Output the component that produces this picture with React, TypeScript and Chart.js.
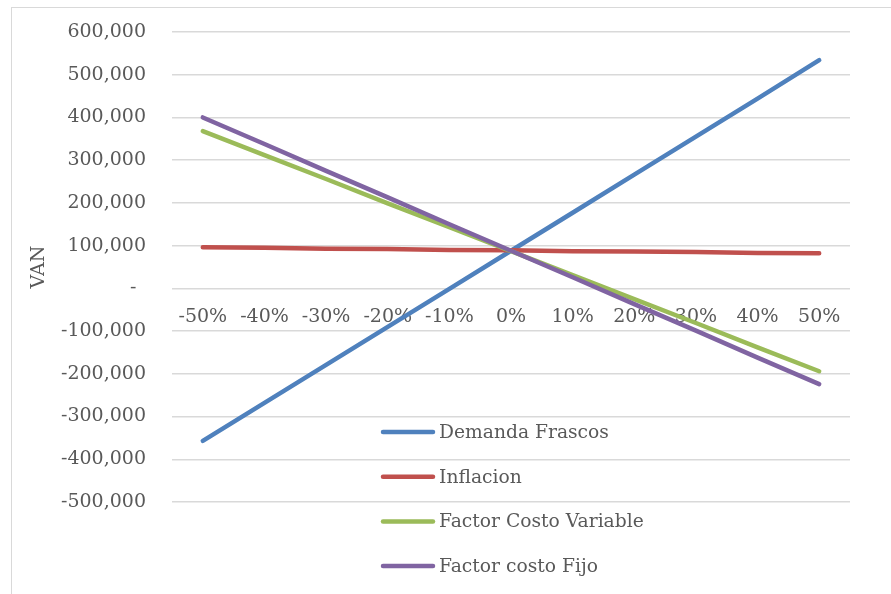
import React, { useEffect, useRef } from "react";
import { Chart, registerables } from "chart.js";

Chart.register(...registerables);

const categories = ["-50%", "-40%", "-30%", "-20%", "-10%", "0%", "10%", "20%", "30%", "40%", "50%"];
const demandaFrascos = [-357000, -268000, -179000, -90000, -1000, 88000, 177000, 266000, 355000, 444000, 534000];
const inflacion = [96000, 95000, 93000, 92000, 90000, 89000, 87000, 86000, 85000, 83000, 82000];
const factorCostoVariable = [368000, 312000, 256000, 199000, 143000, 87000, 31000, -25000, -81000, -138000, -194000];
const factorCostoFijo = [400000, 338000, 275000, 213000, 150000, 88000, 26000, -37000, -99000, -162000, -224000];
const seriesNames = ["Demanda Frascos", "Inflacion", "Factor Costo Variable", "Factor costo Fijo"];
const seriesColors = ["#4F81BD", "#C0504D", "#9BBB59", "#8064A2"];

const FONT = "'DejaVu Serif', serif";
const TEXT = "#595959";
const GRID = "#d9d9d9";

const legendPlugin = {
  id: "insideLegend",
  afterDraw(chart: any) {
    const ctx = chart.ctx;
    const x0 = 383;
    const y0 = 432;
    const step = 44.7;
    ctx.save();
    ctx.font = `18.7px ${FONT}`;
    ctx.textBaseline = "middle";
    ctx.textAlign = "left";
    chart.data.datasets.forEach((ds: any, i: number) => {
      const y = y0 + i * step;
      ctx.strokeStyle = ds.borderColor;
      ctx.lineWidth = 4.5;
      ctx.lineCap = "round";
      ctx.beginPath();
      ctx.moveTo(x0, y);
      ctx.lineTo(x0 + 50, y);
      ctx.stroke();
      ctx.fillStyle = TEXT;
      ctx.fillText(ds.label, x0 + 56, y + 1);
    });
    ctx.restore();
  },
};

export default function App() {
  const ref = useRef<HTMLCanvasElement | null>(null);
  useEffect(() => {
    document.body.style.margin = "0";
    const seriesData = [demandaFrascos, inflacion, factorCostoVariable, factorCostoFijo];
    const chart = new Chart(ref.current as HTMLCanvasElement, {
      type: "line",
      data: {
        labels: categories,
        datasets: seriesData.map((d, i) => ({
          label: seriesNames[i],
          data: d,
          borderColor: seriesColors[i],
          backgroundColor: seriesColors[i],
          borderWidth: 4.5,
          borderCapStyle: "round" as const,
          borderJoinStyle: "round" as const,
          pointRadius: 0,
          pointHoverRadius: 0,
          tension: 0,
          fill: false,
          order: 3 - i,
        })),
      },
      options: {
        animation: false,
        responsive: false,
        maintainAspectRatio: false,
        layout: { padding: { left: 15, right: 41, top: 32, bottom: 92 } },
        plugins: {
          legend: { display: false },
          tooltip: { enabled: false },
        },
        scales: {
          x: {
            type: "category",
            position: { y: 0 } as any,
            offset: true,
            grid: { display: false, drawTicks: false },
            border: { display: false },
            ticks: {
              color: TEXT,
              font: { family: FONT, size: 19 },
              padding: 17,
              autoSkip: false,
              maxRotation: 0,
              minRotation: 0,
            },
          },
          y: {
            type: "linear",
            min: -500000,
            max: 600000,
            grid: {
              color: GRID,
              lineWidth: 1.5,
              drawTicks: true,
              tickLength: 26,
              tickColor: "rgba(0,0,0,0)",
            },
            border: { display: false },
            ticks: {
              stepSize: 100000,
              color: TEXT,
              font: { family: FONT, size: 19 },
              padding: 0,
              callback: (v: any) => (Number(v) === 0 ? "-\u2002" : Number(v).toLocaleString("en-US")),
            },
            title: {
              display: true,
              text: "VAN",
              color: TEXT,
              font: { family: FONT, size: 19, weight: "normal" },
              padding: { top: 13, bottom: 0 },
            },
            afterFit: (scale: any) => {
              scale.width = 157;
            },
          },
        },
      },
      plugins: [legendPlugin],
    });
    return () => chart.destroy();
  }, []);
  return (
    <div style={{ position: "fixed", left: 0, top: 0, width: 891, height: 594, background: "#fff" }}>
      <div
        style={{
          position: "absolute",
          left: 11,
          top: 7,
          width: 900,
          height: 600,
          border: "1.5px solid #d9d9d9",
          boxSizing: "border-box",
        }}
      />
      <canvas ref={ref} width={891} height={594} style={{ position: "absolute", left: 0, top: 0 }} />
    </div>
  );
}
